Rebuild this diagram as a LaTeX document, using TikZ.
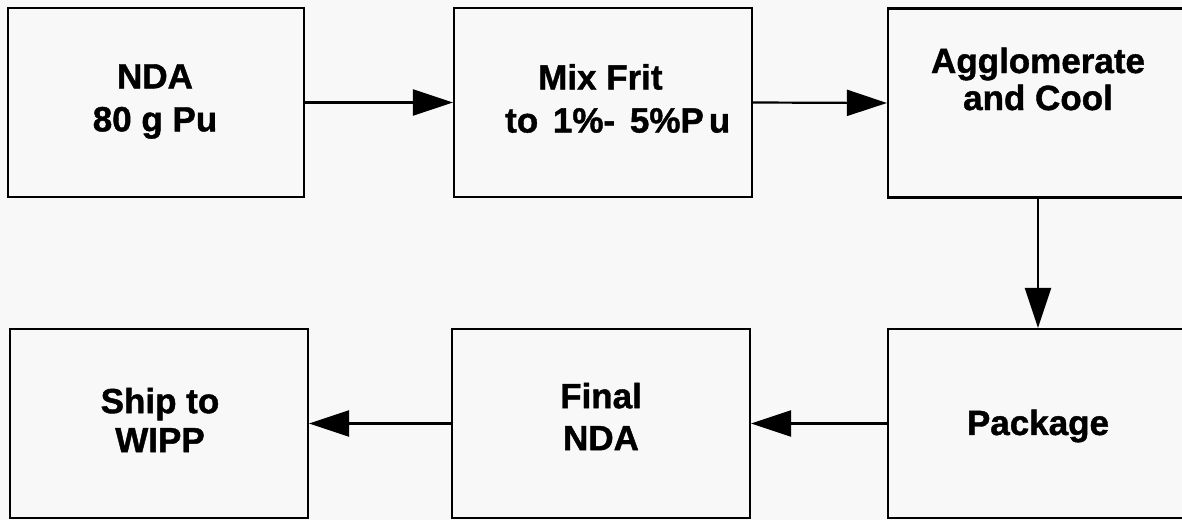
\documentclass[tikz,border=0pt]{standalone}
\usepackage{fontspec}
\setmainfont{Liberation Sans}[BoldFeatures={FakeBold=1.2}]
\usetikzlibrary{arrows.meta}
\definecolor{bg}{RGB}{248,248,248}
\begin{document}
\begin{tikzpicture}[x=1pt,y=-1pt,
  box/.style={draw=black,line width=2.2pt,minimum height=189pt,inner sep=0pt},
  lbl/.style={align=center,inner sep=0pt,font=\bfseries\fontsize{35}{43}\selectfont},
  flow/.style={line width=2.2pt,-{Triangle[length=40pt,width=26pt]}}]
\fill[bg] (0,0) rectangle (1182,520);
\useasboundingbox (0,0) rectangle (1182,520);
% boxes
\node[box,minimum width=296pt] (b1) at (156,102.5) {};
\node[box,minimum width=298pt] (b2) at (603,102.5) {};
\node[box,minimum width=300pt] (b3) at (1038,103) {};
\node[box,minimum width=298pt] (b4) at (159,423.5) {};
\node[box,minimum width=298pt] (b5) at (601,423.5) {};
\node[box,minimum width=300pt] (b6) at (1038,423.5) {};
% labels
\node[lbl] (t1) at (155,101.5) {NDA\\80 g Pu};
\node[lbl,align=left,anchor=west] (t2) at (505,98.5) {\hspace*{33pt}Mix Frit\\to\kern5pt\ 1\%-\kern5pt\ 5\%P\kern5pt u};
\node[lbl,font=\bfseries\fontsize{35}{37}\selectfont] (t3) at (1038,79) {Agglomerate\\and Cool};
\node[lbl,font=\bfseries\fontsize{35}{39}\selectfont] (t4) at (160,420) {Ship to\\WIPP};
\node[lbl,font=\bfseries\fontsize{35}{42}\selectfont] (t5) at (601,416.5) {Final\\NDA};
\node[lbl] (t6) at (1038,426) {Package};
% connectors
\draw[flow] (b1.east) -- (b2.west);
\draw[flow] (b2.east) -- (b3.west);
\draw[flow] (b3.south) -- (b6.north);
\draw[flow] (b6.west) -- (b5.east);
\draw[flow] (b5.west) -- (b4.east);
\end{tikzpicture}
\end{document}
